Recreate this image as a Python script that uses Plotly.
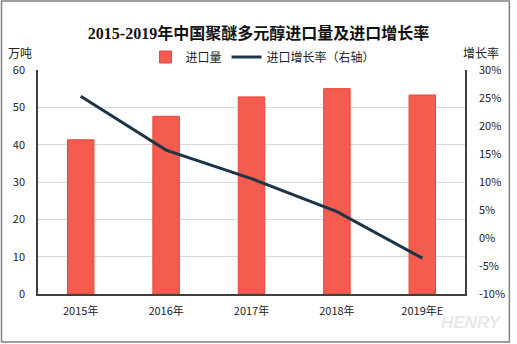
import plotly.graph_objects as go

categories = ["2015年", "2016年", "2017年", "2018年", "2019年E"]
import_volume = [41.3, 47.6, 52.8, 55.0, 53.3]          # 万吨
growth_rate = [0.253, 0.157, 0.106, 0.047, -0.036]      # 进口增长率
left_ticks = [0, 10, 20, 30, 40, 50, 60]
right_tickvals = [-0.10, -0.05, 0.0, 0.05, 0.10, 0.15, 0.20, 0.25, 0.30]
right_ticktext = ["-10%", "-5%", "0%", "5%", "10%", "15%", "20%", "25%", "30%"]

W, H = 517, 344
ML, MR, MT, MB = 38, 46, 70, 50
PW, PH = W - ML - MR, H - MT - MB

def px(x):
    return (x - ML) / PW

def py(y):
    return (H - MB - y) / PH

FONT = "Noto Sans CJK SC, Liberation Sans, sans-serif"

fig = go.Figure()
fig.add_trace(go.Bar(
    x=categories, y=import_volume, name="进口量",
    marker=dict(color="#F45C4F", line=dict(color="#E8453A", width=1)),
    width=0.31,
))
fig.add_trace(go.Scatter(
    x=categories, y=growth_rate, name="进口增长率（右轴）", yaxis="y2",
    mode="lines", line=dict(color="#1E3547", width=3),
))

fig.update_layout(
    width=W, height=H,
    margin=dict(l=ML, r=MR, t=MT, b=MB),
    paper_bgcolor="white", plot_bgcolor="white",
    font=dict(family=FONT, size=11, color="#333333"),
    showlegend=True,
    title=dict(
        text="<b>2015-2019年中国聚醚多元醇进口量及进口增长率</b>",
        x=0.5, xanchor="center", y=1 - 33 / H, yanchor="middle",
        font=dict(family="Liberation Serif, Noto Sans CJK SC, serif", size=16, color="#111111"),
    ),
    legend=dict(
        orientation="h", x=0.527, xanchor="center", y=py(57), yanchor="middle",
        font=dict(size=12, color="#222222"), bgcolor="rgba(0,0,0,0)",
        itemwidth=30, traceorder="normal",
    ),
    xaxis=dict(
        showline=True, linecolor="#404040", linewidth=1.5,
        showgrid=False, ticks="", tickfont=dict(size=11, color="#222222"),
        ticklabelstandoff=6,
    ),
    yaxis=dict(
        range=[0, 60], tickvals=left_ticks,
        showline=True, linecolor="#404040", linewidth=1.5,
        showgrid=True, gridcolor="#D9D9D9", gridwidth=1.2,
        zeroline=False, ticks="", tickfont=dict(size=11, color="#222222"),
        ticklabelstandoff=9,
    ),
    yaxis2=dict(
        overlaying="y", side="right",
        range=[-0.10, 0.30], tickvals=right_tickvals, ticktext=right_ticktext,
        showline=True, linecolor="#404040", linewidth=1.5,
        showgrid=False, zeroline=False, ticks="",
        tickfont=dict(size=11, color="#222222"),
        ticklabelstandoff=10,
    ),
    bargap=0.69,
)

fig.add_annotation(text="万吨", xref="paper", yref="paper", x=px(20), y=py(53),
                   xanchor="center", yanchor="middle", showarrow=False,
                   font=dict(size=12, color="#222222"))
fig.add_annotation(text="增长率", xref="paper", yref="paper", x=px(487), y=py(52),
                   xanchor="center", yanchor="middle", showarrow=False,
                   font=dict(size=12, color="#222222"))
fig.add_annotation(text="<i><b>HENRY</b></i>", xref="paper", yref="paper", x=px(478), y=py(322),
                   xanchor="center", yanchor="middle", showarrow=False,
                   font=dict(family="Liberation Sans, sans-serif", size=17, color="#E8E8E8"))

fig.add_shape(type="rect", xref="paper", yref="paper",
              x0=px(1), x1=px(516), y0=py(342), y1=py(1),
              line=dict(color="#808080", width=1.5), fillcolor="rgba(0,0,0,0)", layer="below")

fig.write_html("out.html")
